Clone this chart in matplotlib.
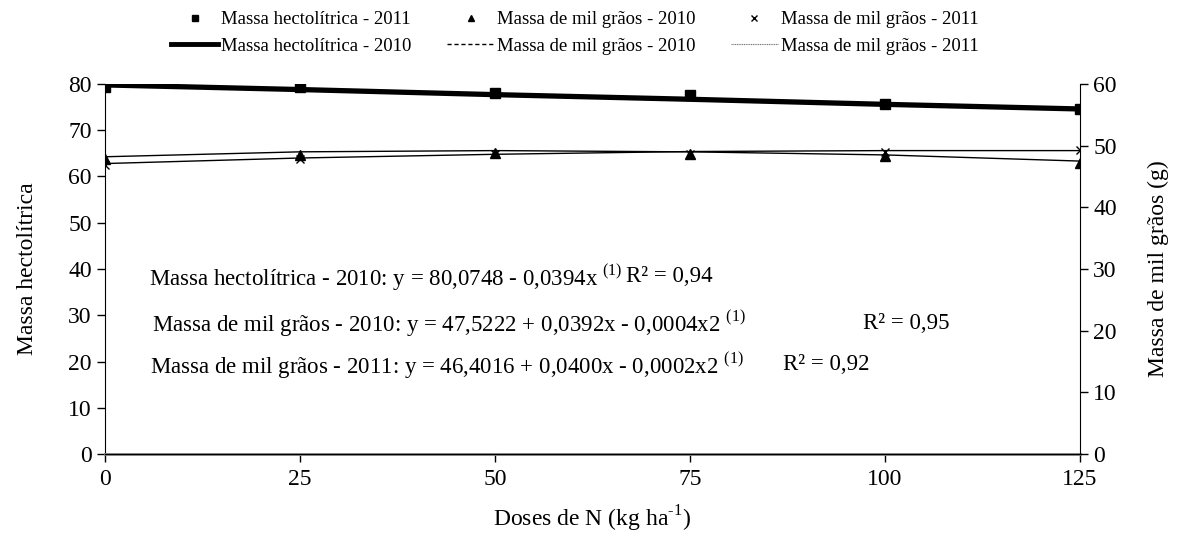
import matplotlib
matplotlib.use("Agg")
import matplotlib.pyplot as plt
from matplotlib.lines import Line2D

plt.rcParams['font.family'] = ['Liberation Serif', 'DejaVu Serif']
plt.rcParams['mathtext.fontset'] = 'custom'
plt.rcParams['mathtext.rm'] = 'Liberation Serif'

# ---- data ----
doses = [0, 25, 50, 75, 100, 125]
xticks = [0, 25, 50, 75, 100, 125]
hecto_2011 = [79.4, 79.3, 78.1, 77.7, 75.6, 74.6]        # squares (left axis)
hecto_2010_fit = [79.8, 78.8, 77.7, 76.7, 75.6, 74.6]    # thick line (left axis)
mil_2010 = [47.9, 48.5, 48.8, 48.6, 48.3, 47.2]          # triangles (right axis)
mil_2011 = [46.8, 47.9, 48.6, 48.7, 48.9, 49.3]          # x markers (right axis)
mil_2010_fit = [48.2, 49.0, 49.2, 49.0, 48.5, 47.5]      # thin line (right axis)
mil_2011_fit = [47.1, 48.0, 48.6, 49.05, 49.2, 49.2]     # thin line (right axis)

eq_texts = [
    "Massa hectolítrica - 2010: y = 80,0748 - 0,0394x $^{\\mathregular{(1)}}$",
    "Massa de mil grãos - 2010: y = 47,5222 + 0,0392x - 0,0004x2 $^{\\mathregular{(1)}}$",
    "Massa de mil grãos - 2011: y = 46,4016 + 0,0400x - 0,0002x2 $^{\\mathregular{(1)}}$",
]
r2_texts = ["R² = 0,94", "R² = 0,95", "R² = 0,92"]

W, H = 1178, 537
fig = plt.figure(figsize=(W / 100, H / 100), dpi=100)
ax = fig.add_axes([105 / W, 1 - 454 / H, (1080 - 105) / W, (454 - 84) / H])
ax2 = ax.twinx()

ax.plot(doses, hecto_2010_fit, color='black', lw=3.8, solid_capstyle='butt', zorder=3)
ax.plot(doses, hecto_2011, ls='none', marker='s', ms=6.5, color='black', zorder=4)

ax2.plot(doses, mil_2010_fit, color='black', lw=1.0, zorder=3)
ax2.plot(doses, mil_2011_fit, color='black', lw=1.0, zorder=3)
ax2.plot(doses, mil_2010, ls='none', marker='^', ms=6.5, color='black', zorder=4)
ax2.plot(doses, mil_2011, ls='none', marker='x', ms=6, mew=1.0, color='black', zorder=4)

ax.set_xlim(0, 125)
ax.set_ylim(0, 80)
ax2.set_ylim(0, 60)
ax.set_xticks(xticks)
ax.set_yticks(range(0, 81, 10))
ax2.set_yticks(range(0, 61, 10))

for a in (ax, ax2):
    a.spines['top'].set_visible(False)
    a.tick_params(labelsize=17, direction='out', length=6, width=1, colors='black')
ax2.spines['left'].set_visible(False)
ax.spines['right'].set_visible(False)
ax.spines['bottom'].set_color('#808080')
ax.spines['bottom'].set_linewidth(2)
ax.tick_params(axis='x', pad=5)

ax.set_ylabel("Massa hectolítrica", fontsize=17, labelpad=22)
ax2.set_ylabel("Massa de mil grãos (g)", fontsize=17, labelpad=22)
ax.set_xlabel("Doses de N (kg ha$^{\\text{-1}}$)", fontsize=17, labelpad=10)

eq_y = [38.3, 28.3, 19.3]
eq_x = [5.6, 6.0, 5.8]
r2_x = [66.8, 97.2, 86.9]
for t, r, xx, rx, yy in zip(eq_texts, r2_texts, eq_x, r2_x, eq_y):
    ax.text(xx, yy, t, fontsize=16.5, va='center', ha='left')
    ax.text(rx, yy, r, fontsize=16.5, va='center', ha='left')

handles = [
    Line2D([], [], ls='none', marker='s', ms=5, color='black'),
    Line2D([], [], color='black', lw=3.5),
    Line2D([], [], ls='none', marker='^', ms=5, color='black'),
    Line2D([], [], color='black', lw=1, ls=(0, (3, 2))),
    Line2D([], [], ls='none', marker='x', ms=5, color='black'),
    Line2D([], [], color='#777777', lw=0.8, ls=(0, (1, 0.6))),
]
labels = [
    "Massa hectolítrica - 2011", "Massa hectolítrica - 2010",
    "Massa de mil grãos - 2010", "Massa de mil grãos - 2010",
    "Massa de mil grãos - 2011", "Massa de mil grãos - 2011",
]
fig.legend(handles, labels, ncol=3, loc='upper center', bbox_to_anchor=(0.488, 1.011),
           frameon=False, fontsize=13.5, handlelength=2.5, handletextpad=0.15,
           columnspacing=1.9, labelspacing=0.5)

fig.savefig("out.png", dpi=100)
